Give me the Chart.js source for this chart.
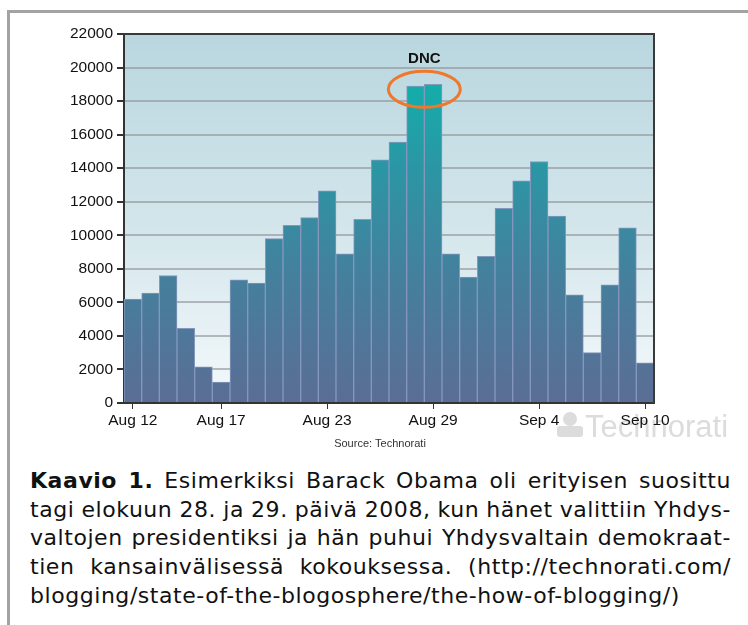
<!DOCTYPE html>
<html>
<head>
<meta charset="utf-8">
<script src="https://cdn.jsdelivr.net/npm/chart.js@4/dist/chart.umd.min.js"></script>
<style>
  html, body { margin: 0; padding: 0; background: #fff; }
  body { width: 748px; height: 625px; position: relative; overflow: hidden; }
  #frame {
    position: absolute; left: 7px; top: 10px; right: -5px; bottom: -5px;
    border-top: 3px solid #a3a3a3; border-left: 3px solid #a3a3a3;
  }
  #chart { position: absolute; left: 0; top: 0; }
  #caption {
    position: absolute; left: 30px; top: 467px; width: 701px;
    font-family: "DejaVu Sans", sans-serif;
    font-size: 22px; line-height: 28.7px; color: #111; letter-spacing: 0.55px;
  }
  #caption div { text-align: justify; text-align-last: justify; white-space: nowrap; }
  #caption div.last { text-align-last: left; }
  #caption div.tight { word-spacing: -2px; }
</style>
</head>
<body>
<div id="frame"></div>
<canvas id="chart" width="748" height="460"></canvas>
<div id="caption">
  <div><b>Kaavio 1.</b> Esimerkiksi Barack Obama oli erityisen suosittu</div>
  <div class="tight">tagi elokuun 28. ja 29. päivä 2008, kun hänet valittiin Yhdys-</div>
  <div>valtojen presidentiksi ja hän puhui Yhdysvaltain demokraat-</div>
  <div>tien kansainvälisessä kokouksessa. (http://technorati.com/</div>
  <div class="last">blogging/state-of-the-blogosphere/the-how-of-blogging/)</div>
</div>
<script>
const days = [
  `Aug 12`, `Aug 13`, `Aug 14`, `Aug 15`, `Aug 16`, `Aug 17`, `Aug 18`, `Aug 19`, `Aug 20`, `Aug 21`,
  `Aug 22`, `Aug 23`, `Aug 24`, `Aug 25`, `Aug 26`, `Aug 27`, `Aug 28`, `Aug 29`, `Aug 30`, `Aug 31`,
  `Sep 1`, `Sep 2`, `Sep 3`, `Sep 4`, `Sep 5`, `Sep 6`, `Sep 7`, `Sep 8`, `Sep 9`, `Sep 10`
];
const posts = [
  6200, 6550, 7600, 4450, 2150, 1250, 7350, 7150, 9800, 10600,
  11050, 12650, 8900, 10950, 14500, 15550, 18900, 19000, 8900, 7500,
  8750, 11600, 13250, 14400, 11150, 6450, 3000, 7050, 10450, 2400
];
const shownLabels = [`Aug 12`, `Aug 17`, `Aug 23`, `Aug 29`, `Sep 4`, `Sep 10`];
const yTicks = [0, 2000, 4000, 6000, 8000, 10000, 12000, 14000, 16000, 18000, 20000, 22000];
const dncDays = [`Aug 28`, `Aug 29`];

const FONT = `"Liberation Sans", Arial, sans-serif`;

const barGradient = (context) => {
  const area = context.chart.chartArea;
  if (!area) {
    return `#3a8aa0`;
  }
  const g = context.chart.ctx.createLinearGradient(0, area.bottom, 0, area.top);
  g.addColorStop(0, `#5b6d95`);
  g.addColorStop(0.35, `#44809d`);
  g.addColorStop(0.65, `#2a97a5`);
  g.addColorStop(0.87, `#12aeaa`);
  g.addColorStop(1, `#0fb2ab`);
  return g;
};

const backdrop = {
  id: `backdrop`,
  beforeDraw(chart) {
    const {ctx, chartArea: a} = chart;
    ctx.save();
    const g = ctx.createLinearGradient(0, a.top, 0, a.bottom);
    g.addColorStop(0, `#b9d6df`);
    g.addColorStop(0.5, `#d2e5eb`);
    g.addColorStop(1, `#f4f9fb`);
    ctx.fillStyle = g;
    ctx.fillRect(a.left, a.top, a.right - a.left, a.bottom - a.top);

    // technorati watermark
    const wx = a.right - 97;
    const wy = a.bottom + 32;
    ctx.fillStyle = `#dcdcdc`;
    ctx.beginPath();
    ctx.arc(wx + 13, wy - 16, 7, 0, Math.PI * 2);
    ctx.fill();
    ctx.beginPath();
    ctx.roundRect(wx, wy - 9, 26, 11, 3);
    ctx.fill();
    ctx.font = `31px ${FONT}`;
    ctx.textBaseline = `alphabetic`;
    ctx.fillText(`Technorati`, wx + 28, wy + 2);
    ctx.restore();
  },
  afterDraw(chart) {
    const {ctx, chartArea: a} = chart;
    ctx.save();
    ctx.strokeStyle = `#3a3a3a`;
    ctx.lineWidth = 2;
    ctx.beginPath();
    ctx.moveTo(a.left, a.top);
    ctx.lineTo(a.right, a.top);
    ctx.lineTo(a.right, a.bottom);
    ctx.stroke();
    ctx.fillStyle = `#333`;
    ctx.font = `11px ${FONT}`;
    ctx.textAlign = `center`;
    ctx.textBaseline = `middle`;
    ctx.fillText(`Source: Technorati`, (a.left + a.right) / 2 - 9, a.bottom + 41);
    ctx.restore();
  }
};

const dncMark = {
  id: `dncMark`,
  afterDatasetsDraw(chart) {
    const {ctx} = chart;
    const x = chart.scales.x;
    const y = chart.scales.y;
    const cx = (x.getPixelForValue(days.indexOf(dncDays[0])) + x.getPixelForValue(days.indexOf(dncDays[1]))) / 2;
    const cy = y.getPixelForValue(18700);
    ctx.save();
    ctx.strokeStyle = `#f0782a`;
    ctx.lineWidth = 3;
    ctx.beginPath();
    ctx.ellipse(cx, cy, 36, 18, 0, 0, Math.PI * 2);
    ctx.stroke();
    ctx.fillStyle = `#111`;
    ctx.font = `bold 15px ${FONT}`;
    ctx.textAlign = `center`;
    ctx.textBaseline = `middle`;
    ctx.fillText(`DNC`, cx, y.getPixelForValue(20500));
    ctx.restore();
  }
};

new Chart(document.getElementById(`chart`), {
  type: `bar`,
  plugins: [backdrop, dncMark],
  data: {
    labels: days,
    datasets: [{
      data: posts,
      backgroundColor: barGradient,
      hoverBackgroundColor: barGradient,
      borderColor: `#8497bd`,
      borderWidth: 1,
      barPercentage: 1,
      categoryPercentage: 1,
    }]
  },
  options: {
    responsive: false,
    animation: false,
    layout: {
      padding: {left: 0, right: 94, top: 34, bottom: 0}
    },
    plugins: {
      legend: {display: false},
      tooltip: {enabled: false},
    },
    scales: {
      x: {
        afterFit: (scale) => {
          scale.height = 57;
        },
        grid: {
          offset: false,
          drawOnChartArea: false,
          tickLength: 6,
          tickColor: (ctx) => (ctx.tick && shownLabels.includes(days[ctx.index])) ? `#333` : `rgba(0,0,0,0)`,
        },
        border: {color: `#333`, width: 2},
        ticks: {
          autoSkip: false,
          maxRotation: 0,
          padding: 2,
          color: `#111`,
          font: {family: FONT, size: 15.5},
          callback: (val, i) => shownLabels.includes(days[i]) ? days[i] : ``,
        }
      },
      y: {
        min: yTicks[0],
        max: yTicks[yTicks.length - 1],
        afterFit: (scale) => {
          scale.width = 124;
        },
        afterBuildTicks: (scale) => {
          scale.ticks = yTicks.map((v) => ({value: v}));
        },
        grid: {
          color: `rgba(140,145,148,0.6)`,
          lineWidth: 2,
          tickLength: 7,
          tickColor: `#333`,
        },
        border: {color: `#333`, width: 2},
        ticks: {
          padding: 4,
          color: `#111`,
          font: {family: FONT, size: 15.5},
          callback: (v) => String(v),
        }
      }
    }
  }
});
</script>
</body>
</html>
